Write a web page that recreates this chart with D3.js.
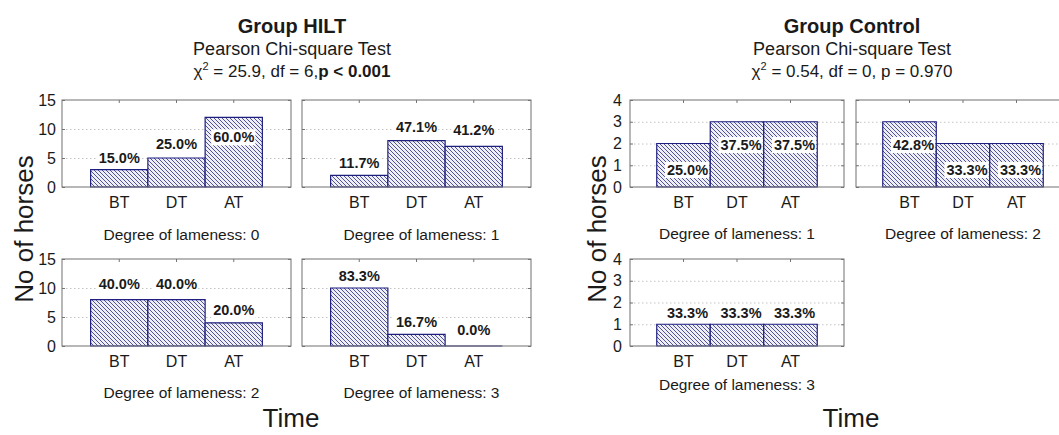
<!DOCTYPE html>
<html>
<head>
<meta charset="utf-8">
<script src="https://cdn.jsdelivr.net/npm/d3@7"></script>
<style>
  html, body { margin: 0; padding: 0; background: #fff; }
  svg { display: block; font-family: "Liberation Sans", Arial, sans-serif; }
</style>
</head>
<body>
<svg id="chart" width="1059" height="435"></svg>
<script>
// Time points of the study
const timePoints = ["BT", "DT", "AT"];

// Group HILT: number of horses per degree of lameness
const hiltCounts0 = [3, 5, 12];
const hiltCounts1 = [2, 8, 7];
const hiltCounts2 = [8, 8, 4];
const hiltCounts3 = [10, 2, 0];
const hiltPct0 = ["15.0%", "25.0%", "60.0%"];
const hiltPct1 = ["11.7%", "47.1%", "41.2%"];
const hiltPct2 = ["40.0%", "40.0%", "20.0%"];
const hiltPct3 = ["83.3%", "16.7%", "0.0%"];
const hiltTicks = [0, 5, 10, 15];

// Group Control: number of horses per degree of lameness
const controlCounts1 = [2, 3, 3];
const controlCounts2 = [3, 2, 2];
const controlCounts3 = [1, 1, 1];
const controlPct1 = ["25.0%", "37.5%", "37.5%"];
const controlPct2 = ["42.8%", "33.3%", "33.3%"];
const controlPct3 = ["33.3%", "33.3%", "33.3%"];
const controlTicks = [0, 1, 2, 3, 4];

// Height (in counts) at which each percentage label sits
const hiltLabelAt0 = [4.1, 6.6, 7.7];
const hiltLabelAt1 = [3.2, 9.4, 9.0];
const hiltLabelAt2 = [9.9, 9.9, 5.3];
const hiltLabelAt3 = [11.2, 3.2, 1.9];
const controlLabelAt1 = [0.55, 1.7, 1.7];
const controlLabelAt2 = [1.7, 0.55, 0.55];
const controlLabelAt3 = [1.3, 1.3, 1.3];

const svg = d3.select("#chart");
const FONT = '"Liberation Sans", Arial, sans-serif';
const INK = "#1a1a1a";

// hatched bar fill
const defs = svg.append("defs");
const pat = defs.append("pattern")
  .attr("id", "hatch").attr("patternUnits", "userSpaceOnUse")
  .attr("width", 4).attr("height", 4);
pat.append("rect").attr("width", 4).attr("height", 4).attr("fill", "#eeeef6");
pat.append("path")
  .attr("d", "M-1,-1 L5,5 M-1,3 L1,5 M3,-1 L5,1")
  .attr("stroke", "#4a4a96").attr("stroke-width", 0.95);

function panel(cfg) {
  const g = svg.append("g");
  const x = d3.scaleBand().domain(timePoints)
    .range([cfg.x + cfg.w / 8, cfg.x + cfg.w * 7 / 8]).padding(0);
  const y = d3.scaleLinear().domain([0, cfg.max]).range([cfg.y + cfg.h, cfg.y]);

  // dotted grid
  g.append("g")
    .attr("transform", `translate(${cfg.x},0)`)
    .call(d3.axisLeft(y).tickValues(cfg.ticks.filter(t => t > 0 && t < cfg.max))
      .tickSize(-cfg.w).tickFormat(""))
    .call(a => a.select(".domain").remove())
    .call(a => a.selectAll("line").attr("stroke", "#c4c4c4").attr("stroke-dasharray", "1.5,2.5"));

  // left axis: inward ticks, labels only on the first column
  g.append("g")
    .attr("transform", `translate(${cfg.x},0)`)
    .call(d3.axisLeft(y).tickValues(cfg.ticks).tickSizeInner(-3).tickSizeOuter(0)
      .tickPadding(cfg.tickPad).tickFormat(cfg.showY ? d3.format("d") : ""))
    .call(a => a.select(".domain").remove())
    .call(a => a.selectAll("line").attr("stroke", "#777"))
    .call(a => a.selectAll("text").attr("font-family", FONT).attr("font-size", 16).attr("fill", INK));

  // right inward ticks
  g.append("g")
    .attr("transform", `translate(${cfg.x + cfg.w},0)`)
    .call(d3.axisRight(y).tickValues(cfg.ticks).tickSizeInner(-3).tickSizeOuter(0).tickFormat(""))
    .call(a => a.select(".domain").remove())
    .call(a => a.selectAll("line").attr("stroke", "#777"));

  // top inward ticks
  g.append("g")
    .attr("transform", `translate(0,${cfg.y})`)
    .call(d3.axisTop(x).tickSizeInner(-3).tickSizeOuter(0).tickFormat(""))
    .call(a => a.select(".domain").remove())
    .call(a => a.selectAll("line").attr("stroke", "#777"));

  // bars
  g.selectAll("path.bar").data(cfg.counts).join("path")
    .attr("class", "bar")
    .attr("d", (d, i) => {
      const x0 = x(timePoints[i]), x1 = x0 + x.bandwidth();
      return `M${x0},${y(0)}V${y(d)}H${x1}V${y(0)}Z`;
    })
    .attr("fill", "url(#hatch)")
    .attr("stroke", "#1e1e7e").attr("stroke-width", 1.2);

  // frame
  g.append("rect")
    .attr("x", cfg.x).attr("y", cfg.y).attr("width", cfg.w).attr("height", cfg.h)
    .attr("fill", "none").attr("stroke", "#707070").attr("stroke-width", 1);

  // bottom axis labels
  g.append("g")
    .attr("transform", `translate(0,${cfg.y + cfg.h})`)
    .call(d3.axisBottom(x).tickSize(0).tickPadding(10))
    .call(a => a.select(".domain").remove())
    .call(a => a.selectAll("text").attr("font-family", FONT).attr("font-size", 16).attr("fill", INK));

  // percentage labels on white boxes
  const lab = g.selectAll("g.lab").data(cfg.pct).join("g").attr("class", "lab")
    .attr("transform", (d, i) => `translate(${x(timePoints[i]) + x.bandwidth() / 2 + cfg.labDx},${y(cfg.labelAt[i])})`);
  lab.append("rect").attr("fill", "#fff");
  lab.append("text")
    .attr("text-anchor", "middle")
    .attr("font-family", FONT).attr("font-weight", "bold").attr("font-size", 14.5)
    .attr("fill", INK).text(d => d);
  lab.each(function () {
    const t = d3.select(this).select("text").node().getBBox();
    d3.select(this).select("rect")
      .attr("x", t.x - 2).attr("y", t.y).attr("width", t.width + 3).attr("height", t.height);
  });

  // caption
  g.append("text")
    .attr("x", cfg.x + cfg.w / 2 + cfg.capDx).attr("y", cfg.capY)
    .attr("text-anchor", "middle").attr("font-family", FONT).attr("font-size", 15.5).attr("fill", INK)
    .text("Degree of lameness: " + cfg.degree);
}

function header(cx, name, statParts) {
  svg.append("text").attr("x", cx).attr("y", 33).attr("text-anchor", "middle")
    .attr("font-family", FONT).attr("font-weight", "bold").attr("font-size", 20).attr("fill", INK)
    .text(name);
  svg.append("text").attr("x", cx).attr("y", 55).attr("text-anchor", "middle")
    .attr("font-family", FONT).attr("font-size", 18).attr("fill", INK)
    .text("Pearson Chi-square Test");
  const t = svg.append("text").attr("x", cx).attr("y", 77).attr("text-anchor", "middle")
    .attr("font-family", FONT).attr("font-size", 17).attr("fill", INK);
  t.append("tspan").text("χ");
  t.append("tspan").attr("dy", -7).attr("font-size", 11).text("2");
  t.append("tspan").attr("dy", 7).text(statParts[0]);
  if (statParts[1]) t.append("tspan").attr("font-weight", "bold").text(statParts[1]);
}

function axisTitles(cxTime, xY) {
  svg.append("text").attr("x", cxTime).attr("y", 427).attr("text-anchor", "middle")
    .attr("font-family", FONT).attr("font-size", 26).attr("fill", INK).text("Time");
  svg.append("text").attr("transform", `translate(${xY},229) rotate(-90)`).attr("text-anchor", "middle")
    .attr("font-family", FONT).attr("font-size", 26).attr("fill", INK).text("No of horses");
}

// Group HILT
header(292, "Group HILT", [" = 25.9, df = 6,", "p < 0.001"]);
const hiltBase = { w: 229, h: 87, max: 15, ticks: hiltTicks, tickPad: 6, labDx: 0, capDx: 5 };
panel({ ...hiltBase, x: 62, y: 100, counts: hiltCounts0, pct: hiltPct0, labelAt: hiltLabelAt0, degree: 0, capY: 240, showY: true });
panel({ ...hiltBase, x: 302, y: 100, counts: hiltCounts1, pct: hiltPct1, labelAt: hiltLabelAt1, degree: 1, capY: 240, showY: false });
panel({ ...hiltBase, x: 62, y: 259, counts: hiltCounts2, pct: hiltPct2, labelAt: hiltLabelAt2, degree: 2, capY: 398, showY: true });
panel({ ...hiltBase, x: 302, y: 259, counts: hiltCounts3, pct: hiltPct3, labelAt: hiltLabelAt3, degree: 3, capY: 398, showY: false });
axisTitles(291, 33);

// Group Control
header(852, "Group Control", [" = 0.54, df = 0, p = 0.970"]);
const ctrlBase = { w: 214, h: 87, max: 4, ticks: controlTicks, tickPad: 8, labDx: 4, capDx: 0 };
panel({ ...ctrlBase, x: 630, y: 100, counts: controlCounts1, pct: controlPct1, labelAt: controlLabelAt1, degree: 1, capY: 239, showY: true });
panel({ ...ctrlBase, x: 856, y: 100, counts: controlCounts2, pct: controlPct2, labelAt: controlLabelAt2, degree: 2, capY: 239, showY: false });
panel({ ...ctrlBase, x: 630, y: 259, counts: controlCounts3, pct: controlPct3, labelAt: controlLabelAt3, degree: 3, capY: 390, showY: true });
axisTitles(851, 606);
</script>
</body>
</html>
